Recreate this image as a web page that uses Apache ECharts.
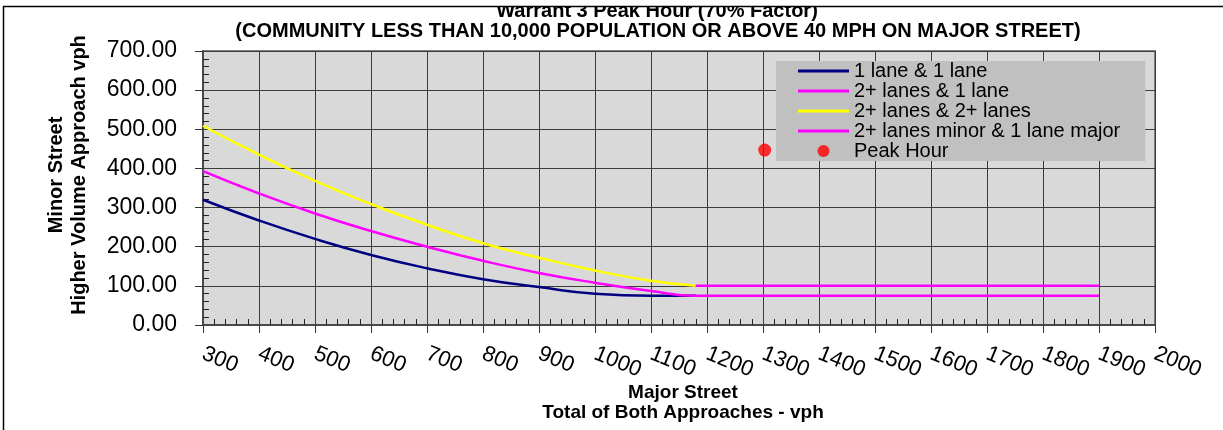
<!DOCTYPE html>
<html><head><meta charset="utf-8">
<script src="https://cdn.jsdelivr.net/npm/echarts@6/dist/echarts.min.js"></script>
<style>html,body{margin:0;padding:0;background:#fff}#c{width:1223px;height:430px}</style>
</head><body><div id="c"></div>
<script>
// ---- data ----
const titleLine1 = 'Warrant 3 Peak Hour (70% Factor)';
const titleLine2 = '(COMMUNITY LESS THAN 10,000 POPULATION OR ABOVE 40 MPH ON MAJOR STREET)';
const xAxisTitle = ['Major Street', 'Total of Both Approaches - vph'];
const yAxisTitle = ['Minor Street', 'Higher Volume Approach vph'];
const seriesNames = ['1 lane & 1 lane', '2+ lanes & 1 lane', '2+ lanes & 2+ lanes', '2+ lanes minor & 1 lane major', 'Peak Hour'];
const oneOneX = [300, 400, 500, 600, 700, 800, 900, 1000, 1100, 1180];
const oneOneY = [320, 267, 220, 179, 145, 117, 97, 80, 75, 75];
const twoOneX = [300, 400, 500, 600, 700, 800, 900, 1000, 1100, 1180, 1900];
const twoOneY = [393, 336, 285, 240, 200, 164, 133, 108, 87, 75, 75];
const twoTwoX = [300, 400, 500, 600, 700, 800, 900, 1000, 1100, 1180];
const twoTwoY = [509, 435, 368, 309, 256, 209, 172, 139, 113, 100];
const minorX = [1180, 1900];
const minorY = [100, 100];
const peakHourX = [1303];
const peakHourY = [447];
const xMin = 300, xMax = 2000, xStep = 100;
const yMin = 0, yMax = 700, yStep = 100;

// ---- chart ----
const FF = '"Liberation Sans", Arial, Helvetica, sans-serif';
const zip = (xs, ys) => xs.map((x, i) => [x, ys[i]]);
const colors = ['#000080', '#ff00ff', '#ffff00', '#ff00ff', '#ff0000'];
const chart = echarts.init(document.getElementById('c'), null, {renderer: 'canvas'});

function lineSeries(i, xs, ys) {
  return {
    name: seriesNames[i], type: 'line', data: zip(xs, ys),
    smooth: 0.5, showSymbol: false, symbol: 'none',
    lineStyle: {color: colors[i], width: 2.5}, itemStyle: {color: colors[i]},
    z: 3 + i
  };
}

const gridLine = {show: true, lineStyle: {color: '#3c3c3c', width: 1}};
const axisLineStyle = {show: true, lineStyle: {color: '#4a4a4a', width: 2}};
const lineIcon = 'path://M0,0H170V10H0Z';

chart.setOption({
  animation: false,
  backgroundColor: '#ffffff',
  grid: {left: 203, right: 68, top: 51, bottom: 105, show: true,
         backgroundColor: '#d9d9d9', borderColor: '#808080', borderWidth: 2},
  xAxis: [
    {type: 'value', min: xMin, max: xMax, interval: xStep, position: 'bottom',
     axisLine: axisLineStyle,
     axisTick: {show: true, length: 8, inside: false, lineStyle: {color: '#333', width: 1}},
     splitLine: gridLine,
     axisLabel: {rotate: -22, fontSize: 22, color: '#000', fontFamily: FF, margin: 28,
                 formatter: v => String(v)}},
    {type: 'value', min: xMin, max: xMax, interval: xStep, position: 'bottom',
     axisLine: {show: false}, splitLine: {show: false}, axisLabel: {show: false},
     axisTick: {show: false, inside: true},
     minorTick: {show: true, splitNumber: 5, length: 6, lineStyle: {color: '#222', width: 1}}}
  ],
  yAxis: [
    {type: 'value', min: yMin, max: yMax, interval: yStep, position: 'left',
     axisLine: axisLineStyle,
     axisTick: {show: true, length: 8, inside: false, lineStyle: {color: '#333', width: 1}},
     splitLine: gridLine,
     axisLabel: {fontSize: 23, color: '#000', fontFamily: FF, margin: 26,
                 formatter: v => v.toFixed(2)}},
    {type: 'value', min: yMin, max: yMax, interval: yStep, position: 'left',
     axisLine: {show: false}, splitLine: {show: false}, axisLabel: {show: false},
     axisTick: {show: false, inside: true},
     minorTick: {show: true, splitNumber: 5, length: 6, lineStyle: {color: '#222', width: 1}}}
  ],
  legend: {
    left: 776, top: 61, orient: 'vertical',
    backgroundColor: '#c0c0c0', borderWidth: 0,
    padding: [0, 25, 0, 22],
    itemWidth: 51, itemHeight: 12, itemGap: 0,
    textStyle: {fontSize: 20, fontFamily: FF, color: '#000', lineHeight: 20},
    data: [
      {name: seriesNames[0], icon: lineIcon, itemStyle: {color: colors[0]}},
      {name: seriesNames[1], icon: lineIcon, itemStyle: {color: colors[1]}},
      {name: seriesNames[2], icon: lineIcon, itemStyle: {color: colors[2]}},
      {name: seriesNames[3], icon: lineIcon, itemStyle: {color: colors[3]}},
      {name: seriesNames[4], icon: 'circle'}
    ],
    z: 10
  },
  series: [
    lineSeries(0, oneOneX, oneOneY),
    lineSeries(1, twoOneX, twoOneY),
    lineSeries(2, twoTwoX, twoTwoY),
    lineSeries(3, minorX, minorY),
    {name: seriesNames[4], type: 'scatter', data: zip(peakHourX, peakHourY),
     symbol: 'circle', symbolSize: 13, itemStyle: {color: colors[4]}, z: 8}
  ],
  graphic: [
    {type: 'text', x: 657, y: 11, z: 50,
     style: {text: titleLine1, font: 'bold 20px ' + FF, fill: '#000', align: 'center', verticalAlign: 'middle'}},
    {type: 'rect', shape: {x: 0, y: 0, width: 1223, height: 6}, style: {fill: '#fff'}, z: 60},
    {type: 'line', shape: {x1: 3, y1: 6.5, x2: 1223, y2: 6.5}, style: {stroke: '#000', lineWidth: 1.5}, z: 61},
    {type: 'line', shape: {x1: 3.5, y1: 6, x2: 3.5, y2: 430}, style: {stroke: '#000', lineWidth: 1.5}, z: 61},
    {type: 'text', x: 658, y: 31, z: 50,
     style: {text: titleLine2, font: 'bold 20px ' + FF, fill: '#000', align: 'center', verticalAlign: 'middle'}},
    {type: 'text', x: 683, y: 393, z: 50,
     style: {text: xAxisTitle[0], font: 'bold 19px ' + FF, fill: '#000', align: 'center', verticalAlign: 'middle'}},
    {type: 'text', x: 683, y: 413, z: 50,
     style: {text: xAxisTitle[1], font: 'bold 19px ' + FF, fill: '#000', align: 'center', verticalAlign: 'middle'}},
    {type: 'text', x: 56, y: 175, rotation: Math.PI / 2, z: 50,
     style: {text: yAxisTitle[0], font: 'bold 20px ' + FF, fill: '#000', align: 'center', verticalAlign: 'middle'}},
    {type: 'text', x: 79, y: 175, rotation: Math.PI / 2, z: 50,
     style: {text: yAxisTitle[1], font: 'bold 20px ' + FF, fill: '#000', align: 'center', verticalAlign: 'middle'}}
  ]
});
</script>
</body></html>
